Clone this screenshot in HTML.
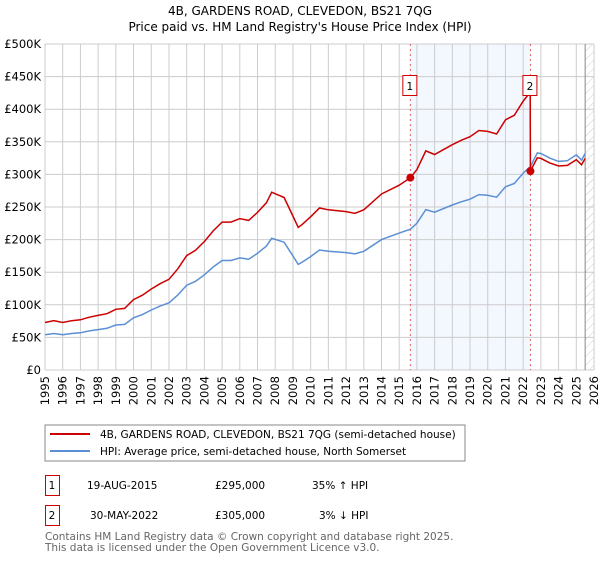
<!DOCTYPE html>
<html><head><meta charset="utf-8"><style>
body{margin:0;background:#fff;font-family:"DejaVu Sans","Liberation Sans",sans-serif}
svg text{font-family:"DejaVu Sans","Liberation Sans",sans-serif}
</style></head><body>
<svg id="c" width="600" height="560" xmlns="http://www.w3.org/2000/svg">
<defs><pattern id="hatch" width="6" height="6" patternUnits="userSpaceOnUse" patternTransform="rotate(45)"><line x1="0" y1="0" x2="0" y2="6" stroke="#ccc" stroke-width="1"/></pattern></defs>
<text x="300" y="15" text-anchor="middle" font-size="12">4B, GARDENS ROAD, CLEVEDON, BS21 7QG</text>
<text x="300" y="31" text-anchor="middle" font-size="12">Price paid vs. HM Land Registry's House Price Index (HPI)</text>
<g id="grid"></g><g id="plot"></g><g id="axes"></g>
<rect x="45" y="425" width="420" height="36" fill="#fff" stroke="#888"/>
<line x1="50" y1="434" x2="90" y2="434" stroke="#cc0000" stroke-width="2"/>
<text x="100" y="438" font-size="10.5">4B, GARDENS ROAD, CLEVEDON, BS21 7QG (semi-detached house)</text>
<line x1="50" y1="451" x2="90" y2="451" stroke="#5b8fd4" stroke-width="2"/>
<text x="100" y="455" font-size="10.5">HPI: Average price, semi-detached house, North Somerset</text>
<g>
<rect x="45.5" y="475.5" width="14" height="20" fill="none" stroke="#cc0000"/>
<text x="52" y="489" text-anchor="middle" font-size="10.5">1</text>
<text x="87" y="489" font-size="10.5">19-AUG-2015</text>
<text x="215" y="489" font-size="10.5">£295,000</text>
<text x="312" y="489" font-size="10.5">35% ↑ HPI</text></g>
<g>
<rect x="45.5" y="505.5" width="14" height="20" fill="none" stroke="#cc0000"/>
<text x="52" y="519" text-anchor="middle" font-size="10.5">2</text>
<text x="90" y="519" font-size="10.5">30-MAY-2022</text>
<text x="215" y="519" font-size="10.5">£305,000</text>
<text x="319" y="519" font-size="10.5">3% ↓ HPI</text></g>
<text x="45" y="540" font-size="10.5" fill="#666">Contains HM Land Registry data © Crown copyright and database right 2025.</text>
<text x="45" y="551" font-size="10.5" fill="#666">This data is licensed under the Open Government Licence v3.0.</text>
</svg>
<script>
const hpiYears=[1995,1995.5,1996,1996.5,1997,1997.5,1998,1998.5,1999,1999.5,2000,2000.5,2001,2001.5,2002,2002.5,2003,2003.5,2004,2004.5,2005,2005.5,2006,2006.5,2007,2007.5,2007.8,2008.5,2009,2009.3,2009.5,2010,2010.5,2011,2012,2012.5,2013,2014,2015,2015.63,2016,2016.5,2017,2018,2018.5,2019,2019.5,2020,2020.5,2021,2021.5,2022,2022.41,2022.8,2023,2023.5,2024,2024.5,2025,2025.3,2025.5];
const hpiValues=[54,56,54,56,57,60,62,64,69,70,80,85,92,98,103,115,130,136,146,158,168,168,172,170,179,190,202,196,175,162,165,174,184,182,180,178,182,200,210,216,225,246,242,253,258,262,269,268,265,281,286,302,312,333,332,325,320,321,330,322,332];
const saleYears=[2015.63,2022.41];
const salePrices=[295,305];
const saleLabels=["1","2"];
const yTicks=[0,50,100,150,200,250,300,350,400,450,500];
const yTickLabels=["£0","£50K","£100K","£150K","£200K","£250K","£300K","£350K","£400K","£450K","£500K"];
const xTicks=[1995,1996,1997,1998,1999,2000,2001,2002,2003,2004,2005,2006,2007,2008,2009,2010,2011,2012,2013,2014,2015,2016,2017,2018,2019,2020,2021,2022,2023,2024,2025,2026];
const preRatio=1.35;
const NS="http://www.w3.org/2000/svg";
const X0=45,X1=594,Y0=370,Y1=44,T0=1995,T1=2026,dataEnd=2025.5;
const xs=t=>X0+(t-T0)/(T1-T0)*(X1-X0);
const ys=v=>Y0-v/500*(Y0-Y1);
function mk(p,tag,a){const e=document.createElementNS(NS,tag);for(const k in a)e.setAttribute(k,a[k]);p.appendChild(e);return e;}
const grid=document.getElementById('grid'),plot=document.getElementById('plot'),axes=document.getElementById('axes');
function hpiAt(t){for(let i=0;i<hpiYears.length-1;i++){if(t>=hpiYears[i]&&t<=hpiYears[i+1]){const f=(t-hpiYears[i])/(hpiYears[i+1]-hpiYears[i]);return hpiValues[i]+f*(hpiValues[i+1]-hpiValues[i]);}}return hpiValues[hpiValues.length-1];}
// shaded region
const sh=mk(grid,'rect',{x:xs(saleYears[0]),y:Y1,width:xs(saleYears[1])-xs(saleYears[0]),height:Y0-Y1,fill:'#eef3fd',opacity:0.7});

const ht=mk(grid,'rect',{x:xs(dataEnd),y:Y1,width:X1-xs(dataEnd),height:Y0-Y1,fill:'url(#hatch)'});

yTicks.forEach((v,i)=>{
 const l=mk(grid,'line',{x1:X0,x2:X1,y1:ys(v),y2:ys(v),stroke:'#ccc','stroke-width':1});
 
 const t=mk(axes,'text',{x:X0-4,y:ys(v)+4,'text-anchor':'end','font-size':11.5});t.textContent=yTickLabels[i];
 
});
xTicks.forEach(yr=>{
 const l=mk(grid,'line',{x1:xs(yr),x2:xs(yr),y1:Y1,y2:Y0,stroke:'#ccc','stroke-width':1});
 
 const t=mk(axes,'text',{x:0,y:0,'font-size':11.5,'text-anchor':'end',transform:`translate(${xs(yr)+4},${Y0+6}) rotate(-90)`});t.textContent=yr;
 
});
const el=mk(grid,'line',{x1:xs(dataEnd),x2:xs(dataEnd),y1:Y1,y2:Y0,stroke:'#888'});

saleYears.forEach((t,i)=>{
 const l=mk(grid,'line',{x1:xs(t),x2:xs(t),y1:Y1,y2:Y0,stroke:'#e06060','stroke-dasharray':'2,3'});
 
});
// HPI line
const hp=mk(plot,'path',{d:hpiYears.map((t,i)=>(i?'L':'M')+xs(t).toFixed(1)+','+ys(hpiValues[i]).toFixed(1)).join(''),fill:'none',stroke:'#5b8fd4','stroke-width':1.5});

// property line from sale anchors
const pts=[];
hpiYears.forEach((t,i)=>{let v;
 if(t<saleYears[0])v=hpiValues[i]*preRatio;
 else if(t<saleYears[1])v=salePrices[0]*hpiValues[i]/hpiAt(saleYears[0]);
 else v=salePrices[1]*hpiValues[i]/hpiAt(saleYears[1]);
 pts.push([t,v]);
 if(t<saleYears[1]&&hpiYears[i+1]>=saleYears[1]){pts.push([saleYears[1]-0.01,salePrices[0]*hpiAt(saleYears[1])/hpiAt(saleYears[0])]);}
});
const pp=mk(plot,'path',{d:pts.map((p,i)=>(i?'L':'M')+xs(p[0]).toFixed(1)+','+ys(p[1]).toFixed(1)).join(''),fill:'none',stroke:'#cc0000','stroke-width':1.5});

saleYears.forEach((t,i)=>{
 const c=mk(plot,'circle',{cx:xs(t),cy:ys(salePrices[i]),r:4,fill:'#cc0000'});
 
 const bx=mk(plot,'rect',{x:xs(t)-7.5,y:75.5,width:14,height:20,fill:'#fff',stroke:'#cc0000'});
 
 const tx=mk(plot,'text',{x:xs(t)-0.5,y:90,'text-anchor':'middle','font-size':10.5});tx.textContent=saleLabels[i];
 
});
</script>
</body></html>
